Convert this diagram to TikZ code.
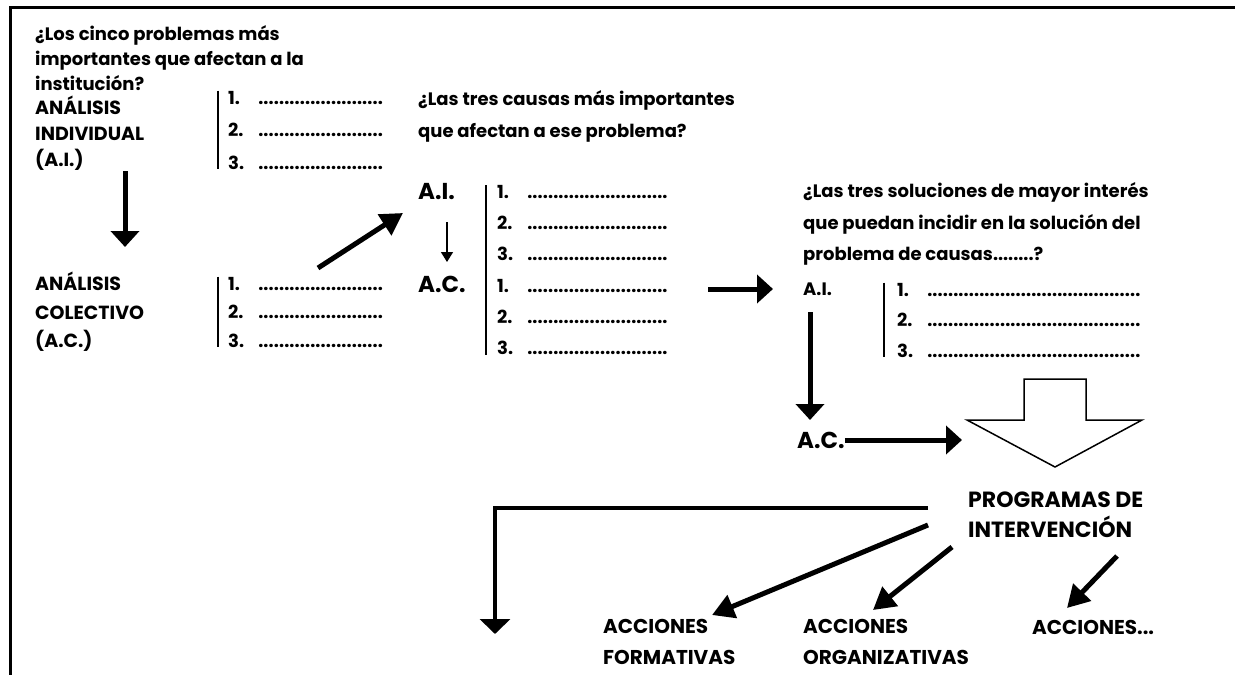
\documentclass[tikz,border=0pt]{standalone}
\usepackage{fontspec}
\setmainfont{Poppins}
\usetikzlibrary{arrows.meta,positioning}

\newcommand{\dotrow}[1]{\makebox[#1]{\leaders\hbox to 5.2pt{\hss.\hss}\hfill}}
\newcommand{\itm}[2]{\makebox[30pt][l]{#1.}\dotrow{#2}}

\begin{document}
\begin{tikzpicture}[x=1pt,y=-1pt,
    txt/.style={anchor=west, inner sep=0pt, align=left, font=\bfseries\fontsize{18}{#1}\selectfont},
    txt/.default=25,
    lab/.style 2 args={anchor=west, inner sep=0pt, align=left, font=\bfseries\fontsize{#1}{#2}\selectfont},
    big/.style={anchor=west, inner sep=0pt, font=\bfseries\fontsize{23}{25}\selectfont},
    bar/.style={line width=2pt},
    fat/.style={line width=5pt, -{Triangle[width=28pt,length=16pt]}},
    slant/.style={line width=5pt, -{Triangle[width=24pt,length=22pt]}},
    thin/.style={line width=1.5pt, -{Triangle[width=12pt,length=10pt]}}]
    \useasboundingbox (0,0) rectangle (1235,675);

    % Frame
    \draw[line width=3pt] (1235,7) -- (10,7) -- (10,675);

    % Problems
    \node[txt] (q1) at (35,58) {¿Los cinco problemas más\\importantes que afectan a la\\institución?};
    \node[lab={19}{26}] (ai) at (35,133) {ANÁLISIS\\INDIVIDUAL\\(A.I.)};
    \node[lab={19}{28.5}] (ac) at (35,312) {ANÁLISIS\\COLECTIVO\\(A.C.)};
    \node[txt=32.5] (l1) at (228,130) {\itm{1}{125pt}\\\itm{2}{125pt}\\\itm{3}{125pt}};
    \node[txt=28.5] (l2) at (228,312) {\itm{1}{125pt}\\\itm{2}{125pt}\\\itm{3}{125pt}};
    \draw[bar] ([xshift=-10pt]l1.north west) -- ([xshift=-10pt]l1.south west);
    \draw[bar] ([xshift=-10pt]l2.north west) -- ([xshift=-10pt]l2.south west);

    % Causes
    \node[txt=32] (q2) at (418,116) {¿Las tres causas más importantes\\que afectan a ese problema?};
    \node[big] (mai) at (418,192) {A.I.};
    \node[big] (mac) at (418,284) {A.C.};
    \node[txt=31.2] (l3) at (497,270) {\itm{1}{142pt}\\\itm{2}{142pt}\\\itm{3}{142pt}\\\itm{1}{142pt}\\\itm{2}{142pt}\\\itm{3}{142pt}};
    \draw[bar] ([xshift=-11pt]l3.north west) -- ([xshift=-11pt]l3.south west);

    % Solutions
    \node[txt=31.5] (q3) at (803,224) {¿Las tres soluciones de mayor interés\\que puedan incidir en la solución del\\problema de causas........?};
    \node[txt] (sai) at (803,289) {A.I.};
    \node[txt=30.5] (l4) at (897,320) {\itm{1}{217pt}\\\itm{2}{217pt}\\\itm{3}{217pt}};
    \draw[bar] ([xshift=-13pt]l4.north west) -- ([xshift=-13pt]l4.south west);
    \node[big] (sac) at (797,440) {A.C.};

    % Block arrow
    \draw[line width=1.5pt, line join=miter] (1024,379) -- (1086,379) -- (1086,420) -- (1142,420)
        -- (1055,467) -- (967,420) -- (1024,420) -- cycle;
    \coordinate (blk) at (962,440);

    % Programs and actions
    \node[lab={22}{30}] (prog) at (968,515) {PROGRAMAS DE\\INTERVENCIÓN};
    \node[lab={20}{31}] (af) at (603,642) {ACCIONES\\FORMATIVAS};
    \node[lab={20}{31}] (ao) at (803,642) {ACCIONES\\ORGANIZATIVAS};
    \node[lab={20}{25}] (ax) at (1032,627) {ACCIONES...};

    % Arrow ends
    \coordinate (d1s) at (125,171);  \coordinate (d1e) at (125,247);
    \coordinate (g1s) at (318,268);  \coordinate (g1e) at (403,213);
    \coordinate (t1s) at (447,222);  \coordinate (t1e) at (447,262);
    \coordinate (h1s) at (708,289);  \coordinate (h1e) at (773,289);
    \coordinate (v2s) at (810,312);  \coordinate (v2e) at (810,420);
    \coordinate (b0) at (928,508);   \coordinate (b1) at (495,508);  \coordinate (b2) at (495,634);
    \coordinate (f1s) at (928,525);  \coordinate (f1e) at (712,615);
    \coordinate (f2s) at (952,547);  \coordinate (f2e) at (873,610);
    \coordinate (f3s) at (1117,556); \coordinate (f3e) at (1067,608);

    % Arrows
    \draw[fat] (d1s) -- (d1e);
    \draw[slant] (g1s) -- (g1e);
    \draw[thin] (t1s) -- (t1e);
    \draw[fat] (h1s) -- (h1e);
    \draw[fat] (v2s) -- (v2e);
    \draw[fat] (sac.east) -- (blk);
    \draw[line width=4pt, line join=miter, -{Triangle[width=30pt,length=15pt]}] (b0) -- (b1) -- (b2);
    \draw[slant] (f1s) -- (f1e);
    \draw[slant] (f2s) -- (f2e);
    \draw[slant] (f3s) -- (f3e);
\end{tikzpicture}
\end{document}
